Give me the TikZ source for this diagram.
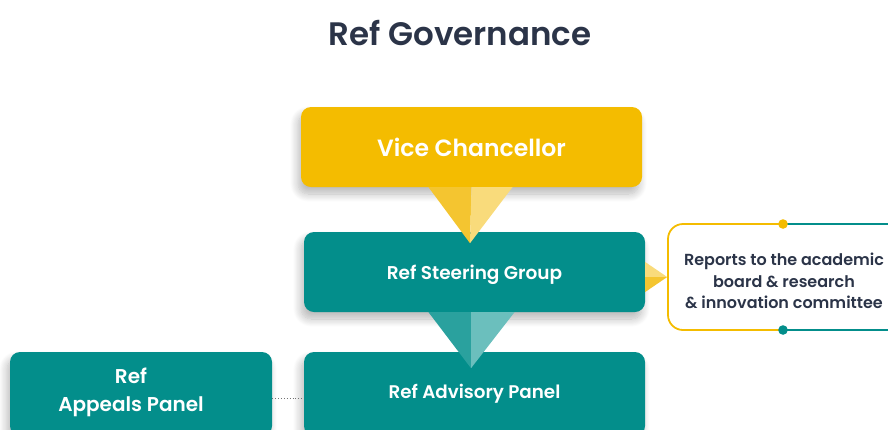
\documentclass[tikz,border=0pt]{standalone}
\usepackage{fontspec}
\setmainfont{Poppins}[BoldFont={* SemiBold}]
\usetikzlibrary{calc,shadows.blur}
\definecolor{navy}{HTML}{2B3448}
\definecolor{gold}{HTML}{F4BC00}
\definecolor{golddk}{HTML}{F4C530}
\definecolor{goldlt}{HTML}{F9DB7B}
\definecolor{tealc}{HTML}{038E8B}
\definecolor{tealdk}{HTML}{2AA19E}
\definecolor{teallt}{HTML}{6BBFBD}
\tikzset{
  box/.style={rounded corners=10pt, inner sep=0pt, align=center, text=white,
    font=\bfseries, blur shadow={shadow xshift=-3pt, shadow yshift=-7pt, shadow blur steps=14, shadow blur radius=8pt, shadow opacity=28}},
  goldbox/.style={box, fill=gold},
  tealbox/.style={box, fill=tealc},
  boxtext/.style={text=white, align=center},
}
\begin{document}
\begin{tikzpicture}[x=1pt,y=-1pt]
\useasboundingbox (0,0) rectangle (888,429);
\clip (0,0) rectangle (888,429);
\node[text=navy, font=\bfseries\fontsize{32.5}{38}\selectfont] (title) at (460,33) {Ref Governance};

\node[goldbox, minimum width=341pt, minimum height=80pt, font=\bfseries\fontsize{23.5}{28}\selectfont] (vc) at (471.5,147) {Vice Chancellor};
\node[tealbox, minimum width=341pt, minimum height=80pt,
  label={[boxtext, yshift=-3pt, font=\bfseries\fontsize{18.5}{22}\selectfont]center:Ref Steering Group}] (sg) at (474.5,272) {};
\node[tealbox, minimum width=341pt, minimum height=84pt, font=\bfseries\fontsize{18.3}{22}\selectfont] (adv) at (474.5,394) {Ref Advisory Panel};
\node[tealbox, minimum width=262pt, minimum height=84pt,
  label={[boxtext, xshift=-10pt, yshift=2pt, font=\bfseries\fontsize{20}{28}\selectfont]center:Ref\\Appeals Panel}] (app) at (141,394) {};

% reports box
\coordinate (rtop) at (783,224);
\coordinate (rbot) at (783,330);
\node[text=navy, align=center, font=\bfseries\fontsize{16}{21.5}\selectfont] (rep) at (784,281) {Reports to the academic\\board \& research\\\& innovation committee};
\draw[gold, line width=1.8pt, rounded corners=15pt] (rtop) -| (668,330) -- (rbot);
\draw[tealc, line width=1.8pt] (rtop) -- (900,224);
\draw[tealc, line width=1.8pt] (rbot) -- (900,330);
\fill[gold] (rtop) circle (4.8pt);
\fill[tealc] (rbot) circle (4.8pt);

% connectors (triangles)
\fill[golddk] ($(vc.south)+(-43,0)$) -- ($(vc.south)+(0,0)$) -- ($(vc.south)+(-1.5,56)$) -- cycle;
\fill[goldlt] ($(vc.south)+(0,0)$) -- ($(vc.south)+(41,0)$) -- ($(vc.south)+(-1.5,56)$) -- cycle;
\fill[tealdk] ($(sg.south)+(-46,0)$) -- ($(sg.south)+(-3.5,0)$) -- ($(sg.south)+(-3.5,56)$) -- cycle;
\fill[teallt] ($(sg.south)+(-3.5,0)$) -- ($(sg.south)+(40,0)$) -- ($(sg.south)+(-3.5,56)$) -- cycle;
\fill[goldlt] ($(sg.east)+(0,-10)$) -- ($(sg.east)+(0,5)$) -- ($(sg.east)+(22,5)$) -- cycle;
\fill[golddk] ($(sg.east)+(0,5)$) -- ($(sg.east)+(0,20)$) -- ($(sg.east)+(22,5)$) -- cycle;
\draw[gray!90!black, dotted, line width=0.9pt] ($(app.east)+(0,4)$) -- ($(adv.west)+(0,4)$);
\end{tikzpicture}
\end{document}
